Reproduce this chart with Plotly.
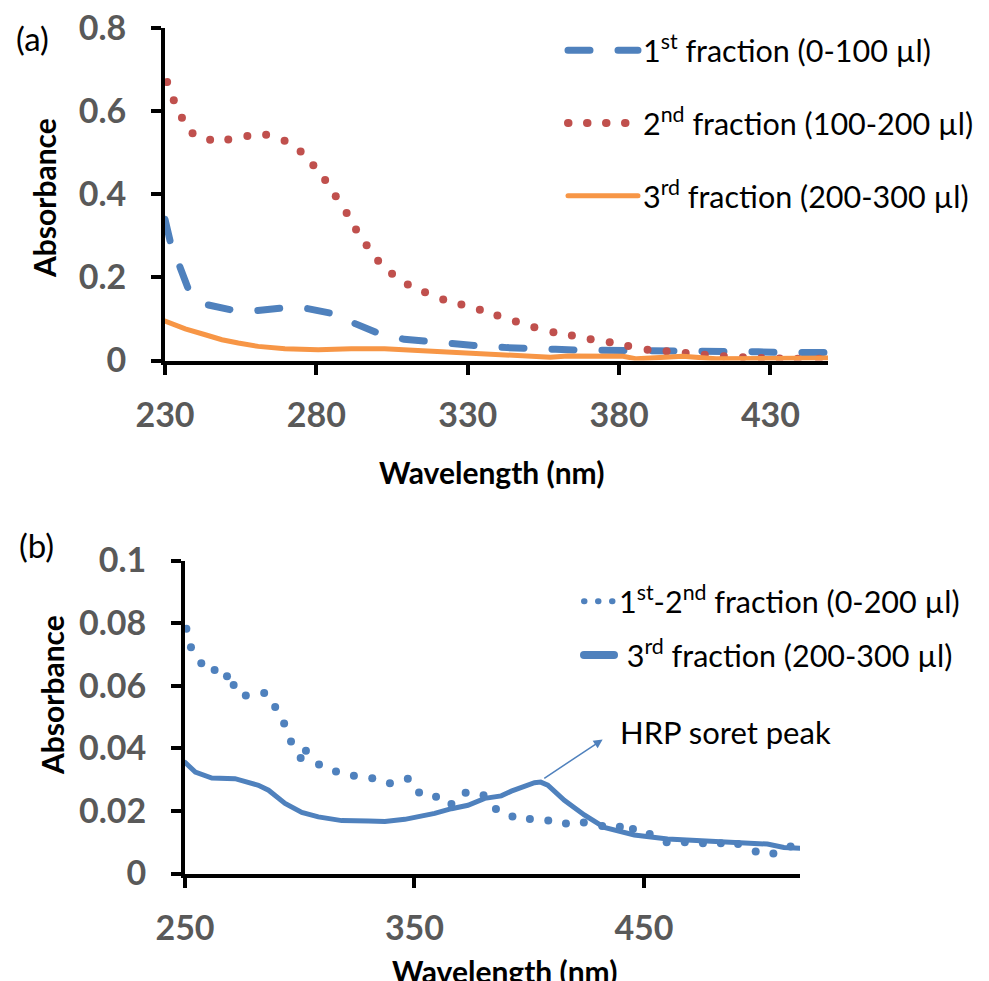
import plotly.graph_objects as go

# ---------------- (a) fraction spectra ----------------
a_f1_wl = [230, 232, 235, 238, 244, 253, 260, 270, 277, 286, 293, 301, 309, 317, 325,
           334, 343, 351, 359, 367, 375, 384, 392, 400, 409, 417, 426, 434, 442, 449]
a_f1_abs = [0.34, 0.278, 0.224, 0.166, 0.134, 0.120, 0.120, 0.127, 0.125, 0.112, 0.088,
            0.064, 0.051, 0.045, 0.041, 0.035, 0.031, 0.027, 0.027, 0.025, 0.025, 0.021,
            0.021, 0.021, 0.021, 0.021, 0.021, 0.019, 0.019, 0.019]

a_f2_wl = [230.7, 232.9, 235.6, 239.1, 244.9, 250.9, 257.2, 263.4, 269.5, 274.8, 279.0,
           282.9, 286.4, 290.0, 293.1, 296.6, 300.4, 305.0, 310.2, 315.9, 321.9, 327.9,
           334.0, 339.8, 345.9, 352.0, 358.3, 364.4, 370.6, 376.9, 383.0, 389.4, 395.7,
           402.0, 408.3, 414.6, 420.9, 427.0, 433.0, 439.0, 446.0]
a_f2_abs = [0.670, 0.626, 0.584, 0.547, 0.531, 0.532, 0.540, 0.543, 0.529, 0.503, 0.470,
            0.434, 0.395, 0.355, 0.315, 0.277, 0.240, 0.209, 0.183, 0.164, 0.147, 0.135,
            0.122, 0.108, 0.094, 0.080, 0.068, 0.060, 0.051, 0.044, 0.035, 0.026, 0.022,
            0.018, 0.014, 0.010, 0.008, 0.006, 0.005, 0.004, 0.004]

a_f3_wl = [230, 236.7, 243.3, 248.8, 254.2, 260.8, 269.6, 280.6, 291.5, 302.5, 313.5,
           324.4, 335.4, 346.3, 357.3, 363, 372.7, 381.3, 385.8, 393, 401, 412, 423, 434, 449]
a_f3_abs = [0.095, 0.076, 0.062, 0.050, 0.042, 0.034, 0.028, 0.026, 0.028, 0.028, 0.024,
            0.020, 0.017, 0.014, 0.008, 0.011, 0.011, 0.010, 0.004, 0.008, 0.010, 0.004,
            0.004, 0.004, 0.006]

# ---------------- (b) pooled fractions ----------------
b_f12_wl = [250.6, 252.6, 257.1, 262.9, 268.3, 271.2, 276.5, 284.5, 289.3, 293.2, 296.2,
            300.4, 302.7, 308.4, 315.8, 323.6, 331.6, 339.3, 347.1, 352.0, 359.4, 366.1,
            372.3, 380.1, 385.5, 392.7, 400.3, 408.3, 416.0, 423.8, 431.8, 439.5, 445.2,
            452.5, 459.9, 467.8, 475.7, 483.5, 491.0, 498.7, 506.4, 513.9]
b_f12_abs = [0.0782, 0.0723, 0.0672, 0.0650, 0.0630, 0.0602, 0.0569, 0.0577, 0.0532,
             0.0479, 0.0422, 0.0369, 0.0392, 0.0348, 0.0326, 0.0312, 0.0304, 0.0288,
             0.0303, 0.0259, 0.0245, 0.0222, 0.0258, 0.0250, 0.0206, 0.0182, 0.0174,
             0.0169, 0.0160, 0.0163, 0.0152, 0.0149, 0.0142, 0.0126, 0.0100, 0.0100,
             0.0097, 0.0097, 0.0094, 0.0070, 0.0064, 0.0086]

b_f3_wl = [250, 254.5, 261.7, 271.8, 282.0, 286.4, 293.6, 300.9, 308.1, 318.3, 329.9,
           337.1, 345.8, 358.8, 366.1, 373.3, 380.6, 387.8, 392.2, 398.0, 402.3, 405.0,
           408.1, 415.3, 424.0, 432.7, 445.8, 460.3, 482.0, 503.8, 511.0, 518.2]
b_f3_abs = [0.0355, 0.0324, 0.0305, 0.0303, 0.0282, 0.0266, 0.0224, 0.0195, 0.0181,
            0.0169, 0.0168, 0.0166, 0.0173, 0.0192, 0.0207, 0.0218, 0.0240, 0.0248,
            0.0263, 0.0278, 0.0290, 0.0292, 0.0282, 0.0234, 0.0187, 0.0147, 0.0123,
            0.0110, 0.0102, 0.0094, 0.0083, 0.0081]

# Soret band annotation: arrow tail at the band maximum, head toward the label
soret_tail = (405.9, 0.0301)
soret_head = (432.0, 0.0428)
soret_label = (438.6, 0.0452)

a_xticks = [230, 280, 330, 380, 430]
a_yticks = [0, 0.2, 0.4, 0.6, 0.8]
b_xticks = [250, 350, 450]
b_yticks = [0, 0.02, 0.04, 0.06, 0.08, 0.1]

BLUE = "#4F81BD"
RED = "#C0504D"
ORANGE = "#F79646"
FONT = "Lato"
W, H = 989, 981

fig = go.Figure()

# ---- panel (a) curves
fig.add_trace(go.Scatter(x=a_f1_wl, y=a_f1_abs, mode="lines",
                         line=dict(color=BLUE, width=7, dash="22px,28px"),
                         name="1<sup>st</sup> fraction (0-100 µl)", legendgroup="a1",
                         xaxis="x", yaxis="y", legend="legend"))
fig.add_trace(go.Scatter(x=a_f2_wl, y=a_f2_abs, mode="markers",
                         marker=dict(color=RED, size=8, line=dict(width=0)),
                         showlegend=False, xaxis="x", yaxis="y"))
fig.add_trace(go.Scatter(x=[None], y=[None], mode="lines",
                         line=dict(color=RED, width=8, dash="0.5px,18.5px"),
                         name="2<sup>nd</sup> fraction (100-200 µl)", legendgroup="a2",
                         xaxis="x", yaxis="y", legend="legend"))
fig.add_trace(go.Scatter(x=a_f3_wl, y=a_f3_abs, mode="lines",
                         line=dict(color=ORANGE, width=5),
                         name="3<sup>rd</sup> fraction (200-300 µl)", legendgroup="a3",
                         xaxis="x", yaxis="y", legend="legend"))

# ---- panel (b) curves
fig.add_trace(go.Scatter(x=b_f12_wl, y=b_f12_abs, mode="markers",
                         marker=dict(color=BLUE, size=8, line=dict(width=0)),
                         showlegend=False, xaxis="x2", yaxis="y2"))
fig.add_trace(go.Scatter(x=[None], y=[None], mode="lines",
                         line=dict(color=BLUE, width=6, dash="0.5px,13.5px"),
                         name="1<sup>st</sup>-2<sup>nd</sup> fraction (0-200 µl)",
                         legendgroup="b1", xaxis="x2", yaxis="y2", legend="legend2"))
fig.add_trace(go.Scatter(x=b_f3_wl, y=b_f3_abs, mode="lines",
                         line=dict(color=BLUE, width=5),
                         showlegend=False, xaxis="x2", yaxis="y2"))
fig.add_trace(go.Scatter(x=[None], y=[None], mode="lines",
                         line=dict(color=BLUE, width=8),
                         name=" 3<sup>rd</sup> fraction (200-300 µl)",
                         legendgroup="b2", xaxis="x2", yaxis="y2", legend="legend2"))

tickfont = dict(family=FONT, size=34, color="#595959", weight="bold")
axis_common = dict(showline=True, linecolor="black", linewidth=4, ticks="outside",
                   ticklen=10, tickwidth=4, tickcolor="black", showgrid=False,
                   zeroline=False, tickfont=tickfont, automargin=False,
                   fixedrange=True)


def px_x(p):
    return p / W


def px_y(p):
    return 1 - p / H


legend_font = dict(family=FONT, size=30.5, color="black")

fig.update_layout(
    width=W, height=H, template="none",
    margin=dict(l=0, r=0, t=0, b=0),
    paper_bgcolor="white", plot_bgcolor="white",
    xaxis=dict(domain=[px_x(165), px_x(828)], range=[230, 449],
               tickvals=a_xticks, anchor="y", ticklabelstandoff=12, **axis_common),
    yaxis=dict(domain=[px_y(360.5), px_y(28)], range=[0, 0.8],
               tickvals=a_yticks, anchor="x", ticklabelstandoff=18, **axis_common),
    xaxis2=dict(domain=[px_x(185), px_x(800)], range=[250, 518],
                tickvals=b_xticks, anchor="y2", ticklabelstandoff=12, **axis_common),
    yaxis2=dict(domain=[px_y(873.5), px_y(560.5)], range=[0, 0.1],
                tickvals=b_yticks, anchor="x2", ticklabelstandoff=18, **axis_common),
    legend=dict(x=px_x(563), y=px_y(24), xanchor="left", yanchor="top",
                font=legend_font, bgcolor="rgba(0,0,0,0)", itemwidth=70,
                tracegroupgap=30, itemclick=False, itemdoubleclick=False),
    legend2=dict(x=px_x(579), y=px_y(575), xanchor="left", yanchor="top",
                 font=legend_font, bgcolor="rgba(0,0,0,0)", itemwidth=30,
                 tracegroupgap=11, itemclick=False, itemdoubleclick=False),
    showlegend=True,
)

title_font = dict(family=FONT, size=30, color="black", weight="bold")
label_font = dict(family=FONT, size=33, color="black")
annotations = [
    dict(text="Absorbance", x=px_x(44), y=px_y(198), textangle=-90, font=title_font),
    dict(text="Absorbance", x=px_x(52), y=px_y(695), textangle=-90, font=title_font),
    dict(text="Wavelength (nm)", x=px_x(491), y=px_y(472), font=title_font),
    dict(text="Wavelength (nm)", x=px_x(504), y=px_y(971), font=title_font),
    dict(text="(a)", x=px_x(32), y=px_y(38), font=label_font),
    dict(text="(b)", x=px_x(36), y=px_y(545), font=label_font),
]
for a in annotations:
    a.update(xref="paper", yref="paper", showarrow=False,
             xanchor="center", yanchor="middle")
fig.update_layout(annotations=annotations)

fig.add_annotation(x=soret_head[0], y=soret_head[1], xref="x2", yref="y2",
                   ax=soret_tail[0], ay=soret_tail[1], axref="x2", ayref="y2",
                   text="", showarrow=True, arrowhead=2, arrowsize=1.2,
                   arrowwidth=1.5, arrowcolor=BLUE)
fig.add_annotation(x=soret_label[0], y=soret_label[1], xref="x2", yref="y2",
                   text="HRP soret peak", showarrow=False, xanchor="left",
                   yanchor="middle", font=dict(family=FONT, size=31, color="black"))

# rounded line ends give the dotted and dashed patterns round dots/caps
post_js = """
var gd = document.getElementById('{plot_id}');
function roundCaps() {
  gd.querySelectorAll('path.js-line').forEach(function (p) {
    p.style.strokeLinecap = 'round';
  });
}
roundCaps();
gd.on('plotly_afterplot', roundCaps);
"""

fig.write_html("out.html", post_script=post_js)
